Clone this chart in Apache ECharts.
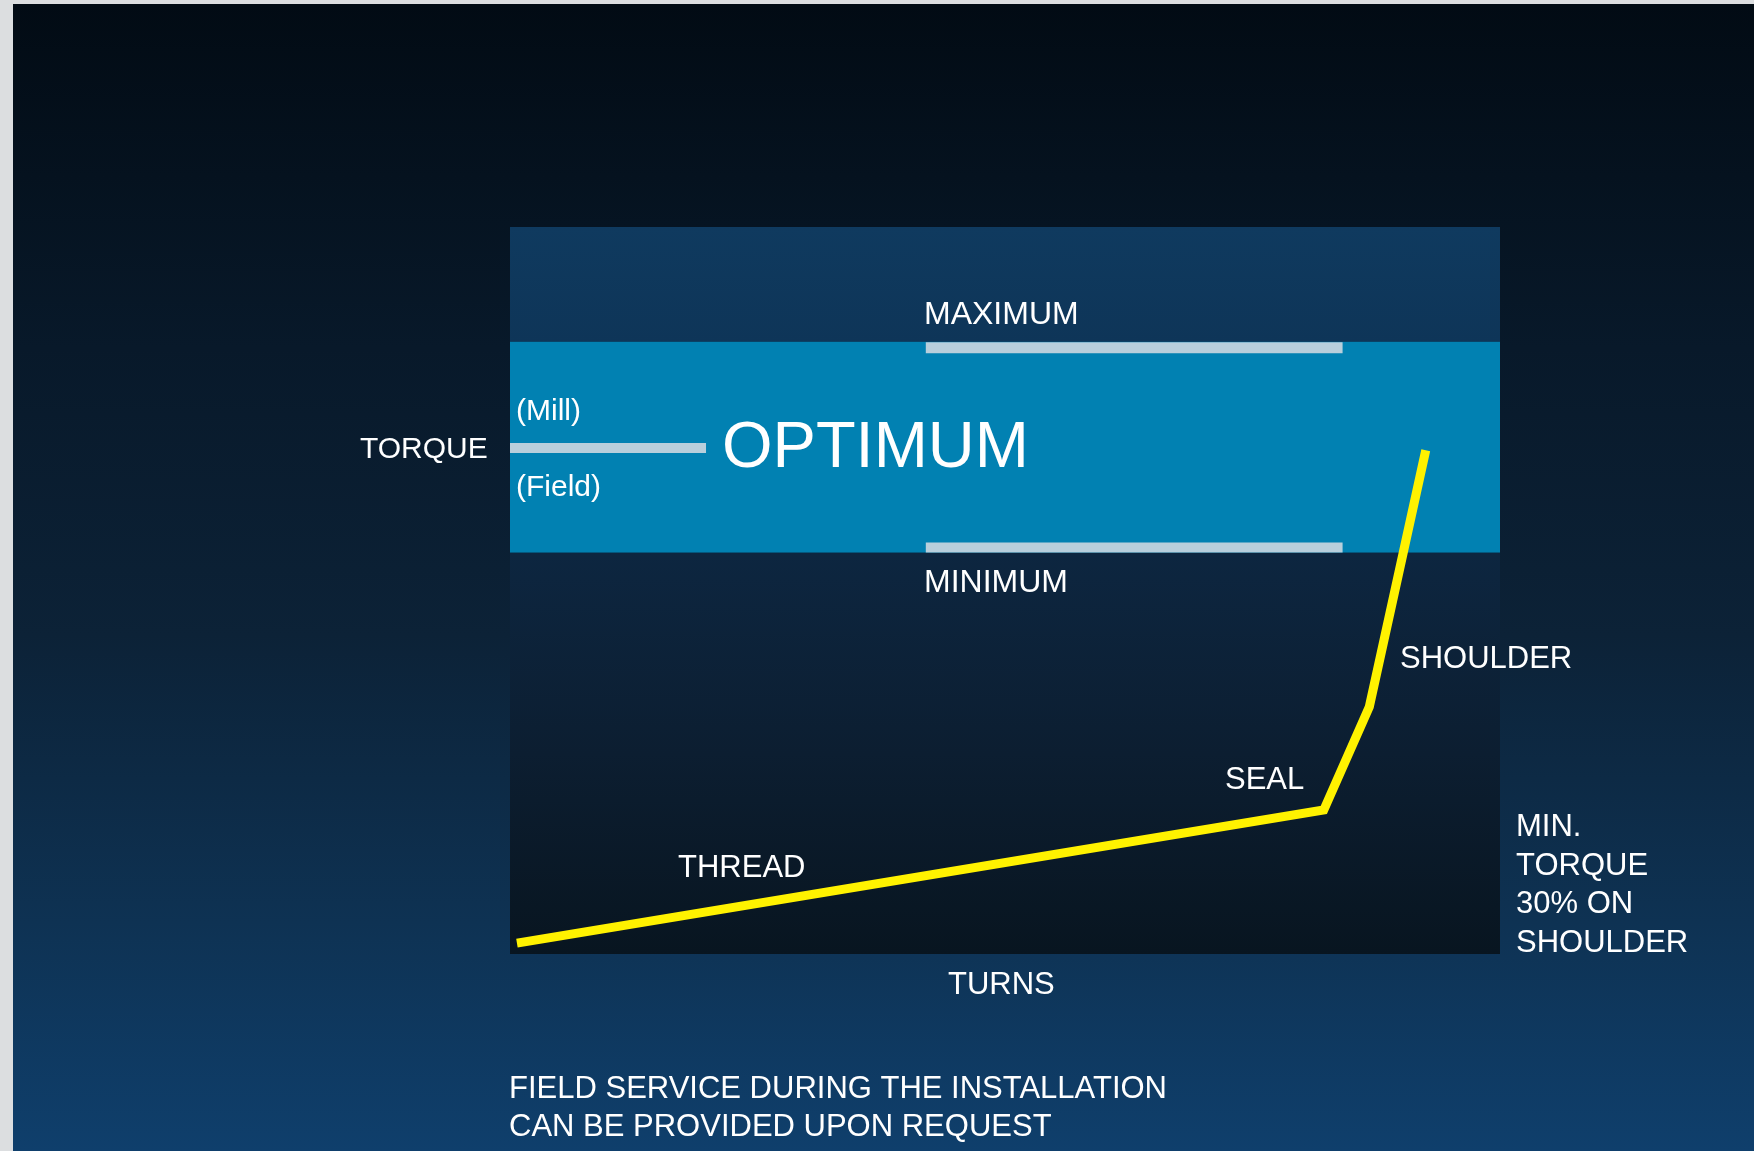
<!DOCTYPE html>
<html>
<head>
<meta charset="utf-8">
<title>Torque - Turns</title>
<script src="https://cdn.jsdelivr.net/npm/echarts@6/dist/echarts.min.js"></script>
<style>
    html, body { margin: 0; padding: 0; background: #dcdee0; }
    #chart { width: 1754px; height: 1151px; }
</style>
</head>
<body>
<div id="chart"></div>
<script>
// 数据 (turns 0-100, torque 0-100)
var curveTurns = [0.7, 82.2, 86.8, 92.5];
var curveTorque = [1.5, 19.8, 34.0, 69.3];
var optimumRange = [55.2, 84.2];
var maxBarTurns = [42.0, 84.1];
var maxBarLevel = 83.4;
var minBarTurns = [42.0, 84.1];
var minBarLevel = 55.9;
var millFieldTurns = [0, 19.8];
var millFieldLevel = 69.6;
var footerLines = ['FIELD SERVICE DURING THE INSTALLATION', 'CAN BE PROVIDED UPON REQUEST'];
var noteLines = ['MIN.', 'TORQUE', '30% ON', 'SHOULDER'];

var chart = echarts.init(document.getElementById('chart'));
var font = '"Liberation Sans", Arial, Helvetica, sans-serif';

function pairs(xs, ys) {
    var out = [];
    for (var i = 0; i < xs.length; i++) {
        out.push([xs[i], ys[i]]);
    }
    return out;
}

function flatBar(xs, level) {
    return [[xs[0], level], [xs[1], level]];
}

//文字标注
function label(text, x, y, size) {
    return {
        type: 'text',
        left: x,
        top: y - size * 0.42,
        z: 100,
        style: {
            text: text,
            fill: '#ffffff',
            font: size + 'px ' + font
        }
    };
}

var grad = echarts.graphic.LinearGradient;

var graphics = [
    {
        type: 'rect',
        z: -10,
        silent: true,
        shape: { x: 13, y: 4, width: 1741, height: 1147 },
        style: {
            fill: new grad(0, 0, 0, 1, [
                { offset: 0, color: '#020b14' },
                { offset: 0.3, color: '#08192a' },
                { offset: 0.55, color: '#0c2237' },
                { offset: 0.8, color: '#0e3253' },
                { offset: 1, color: '#0f3f6c' }
            ])
        }
    },
    label('TORQUE', 360, 447, 30),
    label('(Mill)', 516, 409, 30),
    label('(Field)', 516, 485, 30),
    label('OPTIMUM', 722, 444, 65),
    label('MAXIMUM', 924, 313, 32),
    label('MINIMUM', 924, 581, 32),
    label('SHOULDER', 1400, 657, 31),
    label('SEAL', 1225, 778, 31),
    label('THREAD', 678, 866, 31),
    label('TURNS', 948, 983, 31)
];

for (var i = 0; i < noteLines.length; i++) {
    graphics.push(label(noteLines[i], 1516, 825 + i * 38.7, 31));
}
for (var j = 0; j < footerLines.length; j++) {
    graphics.push(label(footerLines[j], 509, 1087 + j * 38, 31));
}

var barColor = '#b8cfdc';

var option = {
    animation: false,
    backgroundColor: '#dcdee0',
    grid: { left: 510, top: 227, width: 990, height: 727 },
    xAxis: { type: 'value', min: 0, max: 100, show: false },
    yAxis: { type: 'value', min: 0, max: 100, show: false },
    graphic: graphics,
    series: [
        {
            name: 'MAXIMUM',
            type: 'line',
            z: 3,
            symbol: 'none',
            data: flatBar(maxBarTurns, maxBarLevel),
            lineStyle: { color: barColor, width: 11, cap: 'butt' }
        },
        {
            name: 'MINIMUM',
            type: 'line',
            z: 3,
            symbol: 'none',
            data: flatBar(minBarTurns, minBarLevel),
            lineStyle: { color: barColor, width: 10, cap: 'butt' }
        },
        {
            name: 'Mill/Field',
            type: 'line',
            z: 3,
            symbol: 'none',
            data: flatBar(millFieldTurns, millFieldLevel),
            lineStyle: { color: barColor, width: 10, cap: 'butt' }
        },
        {
            name: 'Torque',
            type: 'line',
            z: 4,
            symbol: 'none',
            clip: false,
            data: pairs(curveTurns, curveTorque),
            lineStyle: { color: '#fff200', width: 9, cap: 'butt', join: 'miter' },
            markArea: {
                silent: true,
                label: { show: false },
                data: [
                    [{ yAxis: optimumRange[1], itemStyle: {
                        color: new grad(0, 0, 0, 1, [
                            { offset: 0, color: '#0f3a5f' },
                            { offset: 1, color: '#0e3558' }
                        ])
                    } }, { yAxis: 100 }],
                    [{ yAxis: optimumRange[0], itemStyle: { color: '#0181b2' } }, { yAxis: optimumRange[1] }],
                    [{ yAxis: 0, itemStyle: {
                        color: new grad(0, 0, 0, 1, [
                            { offset: 0, color: '#0d2640' },
                            { offset: 0.5, color: '#0c1e31' },
                            { offset: 1, color: '#081520' }
                        ])
                    } }, { yAxis: optimumRange[0] }]
                ]
            }
        }
    ]
};
chart.setOption(option);
</script>
</body>
</html>
